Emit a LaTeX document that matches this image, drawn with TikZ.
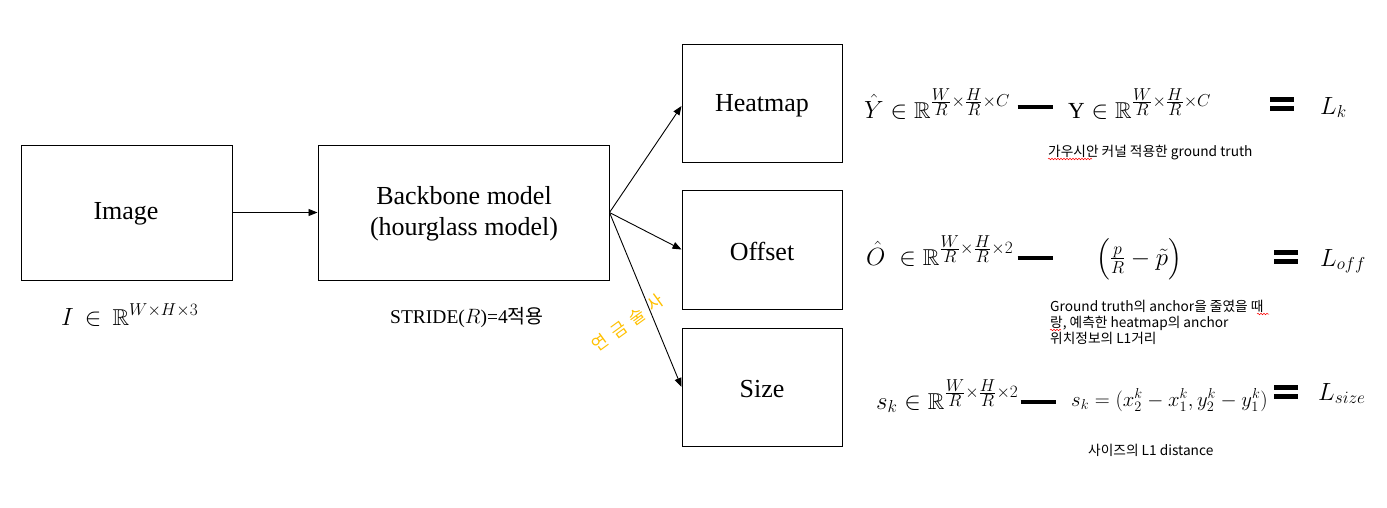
\documentclass[tikz,border=0pt]{standalone}
\usepackage{amsmath,amssymb}
\usepackage{fontspec}
\setmainfont{Liberation Serif}
\newfontfamily\kor{Noto Sans CJK KR}
\usetikzlibrary{arrows.meta,decorations.pathmorphing}
\newcommand{\sfr}[2]{\frac{\scriptstyle #1}{\scriptstyle #2}}
\begin{document}
\begin{tikzpicture}[x=1pt,y=-1pt,
  blk/.style={draw,line width=1pt,inner sep=0pt},
  lbl/.style={font=\fontsize{26}{31}\selectfont,align=center},
  eq/.style={font=\fontsize{23}{27}\selectfont,inner sep=0pt,anchor=base west},
  note/.style={font=\kor\fontsize{13.7}{16}\selectfont,inner sep=0pt,anchor=base west,align=left},
  arr/.style={line width=0.9pt,-{Triangle[length=9pt,width=7pt]}},
  eqbar/.style={inner sep=0pt,minimum width=24pt,minimum height=13pt},
  squig/.style={red,line width=0.5pt,decorate,decoration={snake,amplitude=0.8pt,segment length=3pt}}]
\useasboundingbox (0,0) rectangle (1387,507);
% boxes
\node[blk,minimum width=211pt,minimum height=135pt] (img) at (126.5,212.5) {};
\node[blk,minimum width=291pt,minimum height=135pt] (bb) at (463.5,212.5) {};
\node[blk,minimum width=160pt,minimum height=118pt] (hm) at (762,103) {};
\node[blk,minimum width=160pt,minimum height=119pt] (of) at (762,249.5) {};
\node[blk,minimum width=160pt,minimum height=118pt] (sz) at (762,387) {};
\node[lbl] (imgt) at (126,214) {Image};
\node[lbl] (bbt) at (464,214) {Backbone model\\(hourglass model)};
\node[lbl] (hmt) at (762,106) {Heatmap};
\node[lbl] (oft) at (762,251) {Offset};
\node[lbl] (szt) at (762,389) {Size};
% arrows
\coordinate (bbr) at (bb.east);
\draw[arr] (img.east) -- (bb.west);
\draw[arr] (bbr) -- (hm.west |- 0,106);
\draw[arr] (bbr) -- (of.west);
\draw[arr] (bbr) -- (sz.west);
% labels under boxes
\node[eq] (ieq) at (61,325) {$I\,\in\,\mathbb{R}^{W\times H\times 3}$};
\node[font=\fontsize{19.5}{22}\selectfont,inner sep=0pt,anchor=base west] (stride) at (390,323) {STRIDE($R$)=4{\kor 적용}};
\node[font=\kor\fontsize{17}{20}\selectfont,color={rgb,255:red,255;green,192;blue,0},rotate=36,inner sep=0pt] (alc) at (628,323) {연\hspace{7pt}금\hspace{7pt}술\hspace{7pt}사};
% row 1
\node[eq] (y1) at (864,118) {$\hat{Y}\in\mathbb{R}^{\sfr{W}{R}\times\sfr{H}{R}\times C}$};
\node[inner sep=0pt] (d1) at (1035,107) {\rule{35pt}{4pt}};
\node[eq] (y2) at (1068,118) {$\mathrm{Y}\in\mathbb{R}^{\sfr{W}{R}\times\sfr{H}{R}\times C}$};
\node[eqbar] (e1) at (1282,104) {};
\node[eq] (lk) at (1320,114) {$L_k$};
\node[note] (n1) at (1048,156) {가우시안 커널 적용한 ground truth};
\draw[squig] (1048,159) -- (1092,159);
% row 2
\node[eq] (o1) at (866,265) {$\hat{O}\;\in\mathbb{R}^{\sfr{W}{R}\times\sfr{H}{R}\times 2}$};
\node[inner sep=0pt] (d2) at (1035,258) {\rule{35pt}{4pt}};
\node[eq] (o2) at (1096,265) {$\Bigl(\sfr{p}{R}-\tilde{p}\Bigr)$};
\node[eqbar] (e2) at (1286,257) {};
\node[eq] (loff) at (1320,266) {$L_{off}$};
\node[note] (n2) at (1050,343) {Ground truth의 anchor을 줄였을 때\\랑, 예측한 heatmap의 anchor\\위치정보의 L1거리};
\draw[squig] (1257,314) -- (1269,314);
\draw[squig] (1050,330) -- (1061,330);
% row 3
\node[eq] (s1) at (876,409) {$s_k\in\mathbb{R}^{\sfr{W}{R}\times\sfr{H}{R}\times 2}$};
\node[inner sep=0pt] (d3) at (1038,402) {\rule{35pt}{4pt}};
\node[eq,font=\fontsize{21.5}{25}\selectfont] (s2) at (1071,406) {$s_k=(x_2^k-x_1^k,y_2^k-y_1^k)$};
\node[eqbar] (e3) at (1286,392) {};
\node[eq] (lsize) at (1318,400) {$L_{size}$};
\node[note] (n3) at (1088,455) {사이즈의 L1 distance};
% equals bars
\foreach \e in {e1,e2,e3}{
  \fill (\e.north west) rectangle ([yshift=-5pt]\e.north east);
  \fill (\e.south west) rectangle ([yshift=5pt]\e.south east);
}
\end{tikzpicture}
\end{document}
